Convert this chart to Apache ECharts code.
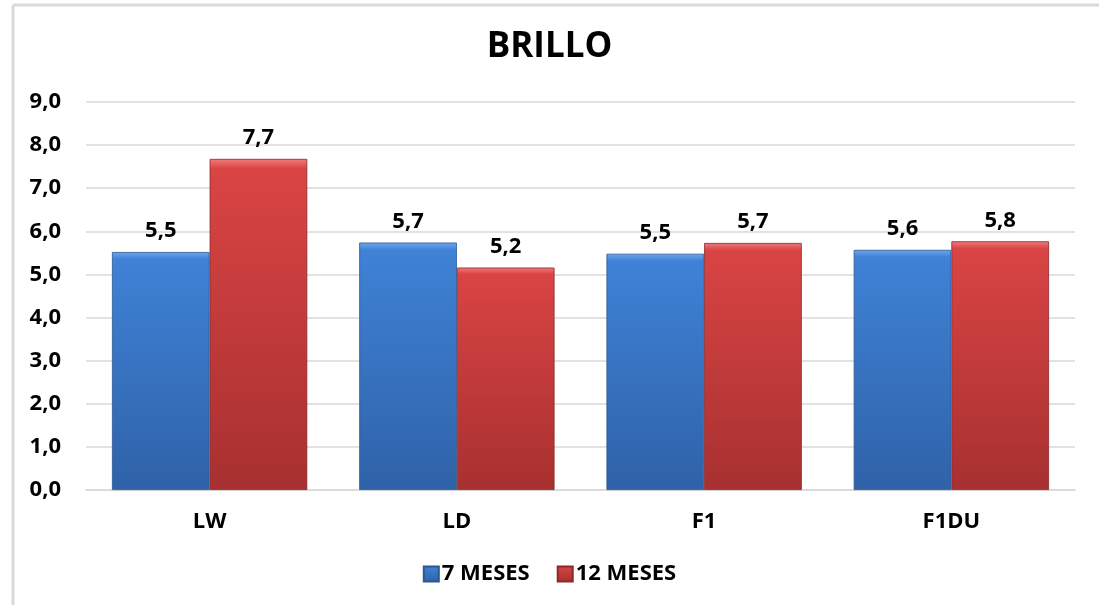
<!DOCTYPE html>
<html><head><meta charset="utf-8">
<script src="https://cdn.jsdelivr.net/npm/echarts@6/dist/echarts.min.js"></script>
<style>html,body{margin:0;padding:0;background:#fff}#c{width:1099px;height:605px}</style>
</head><body><div id="c"></div>
<script>
const categories = ['LW', 'LD', 'F1', 'F1DU'];
const series7 = [5.52, 5.74, 5.48, 5.57];
const series12 = [7.68, 5.16, 5.73, 5.77];
const seriesNames = ['7 MESES', '12 MESES'];
const yTicks = {min: 0, max: 9, interval: 1};

const FONT = '"Open Sans", "Liberation Sans", sans-serif';
const fmt = v => v.toFixed(1).replace('.', ',');
function grad(top, mid, bot) {
  return new echarts.graphic.LinearGradient(0, 0, 0, 1, [
    {offset: 0, color: top}, {offset: 0.03, color: mid}, {offset: 1, color: bot}
  ]);
}
const chart = echarts.init(document.getElementById('c'), null, {renderer: 'canvas'});
chart.setOption({
  animation: false,
  backgroundColor: '#fff',
  title: {text: 'BRILLO', left: 'center', top: 25,
    textStyle: {fontFamily: FONT, fontWeight: 'bold', fontSize: 35, color: '#000'}},
  graphic: [
    {type: 'line', shape: {x1: 13, y1: 5, x2: 13, y2: 605}, style: {stroke: '#d9d9d9', lineWidth: 3}},
    {type: 'line', shape: {x1: 13, y1: 5, x2: 1099, y2: 5}, style: {stroke: '#d9d9d9', lineWidth: 3}}
  ],
  grid: {left: 86, right: 24, top: 102, bottom: 115},
  legend: {
    bottom: 15, left: 'center', itemWidth: 15, itemHeight: 15, itemGap: 27, icon: 'rect',
    textStyle: {fontFamily: FONT, fontWeight: 'bold', fontSize: 22, color: '#000', padding: [0, 0, 0, -2]},
    data: seriesNames
  },
  xAxis: {
    type: 'category', data: categories,
    axisLine: {lineStyle: {color: '#d9d9d9', width: 1.5}},
    axisTick: {show: false},
    axisLabel: {fontFamily: FONT, fontWeight: 'bold', fontSize: 22, color: '#000', margin: 21}
  },
  yAxis: {
    type: 'value', min: yTicks.min, max: yTicks.max, interval: yTicks.interval,
    axisLine: {show: false}, axisTick: {show: false},
    splitLine: {lineStyle: {color: '#d9d9d9', width: 1.5}},
    axisLabel: {fontFamily: FONT, fontWeight: 'bold', fontSize: 22, color: '#000', margin: 25,
      formatter: v => fmt(v)}
  },
  series: [
    {name: seriesNames[0], type: 'bar', data: series7, barGap: '0%', barCategoryGap: '21%',
      itemStyle: {color: grad('#6fa8ec', '#3f82d6', '#2f62a8'), borderColor: '#2a5890', borderWidth: 0.8},
      label: {show: true, position: 'top', distance: 10, formatter: p => fmt(p.value),
        fontFamily: FONT, fontWeight: 'bold', fontSize: 22, color: '#000'}},
    {name: seriesNames[1], type: 'bar', data: series12,
      itemStyle: {color: grad('#f07a7a', '#d94444', '#a83030'), borderColor: '#8a2a2a', borderWidth: 0.8},
      label: {show: true, position: 'top', distance: 10, formatter: p => fmt(p.value),
        fontFamily: FONT, fontWeight: 'bold', fontSize: 22, color: '#000'}}
  ]
});
</script></body></html>
